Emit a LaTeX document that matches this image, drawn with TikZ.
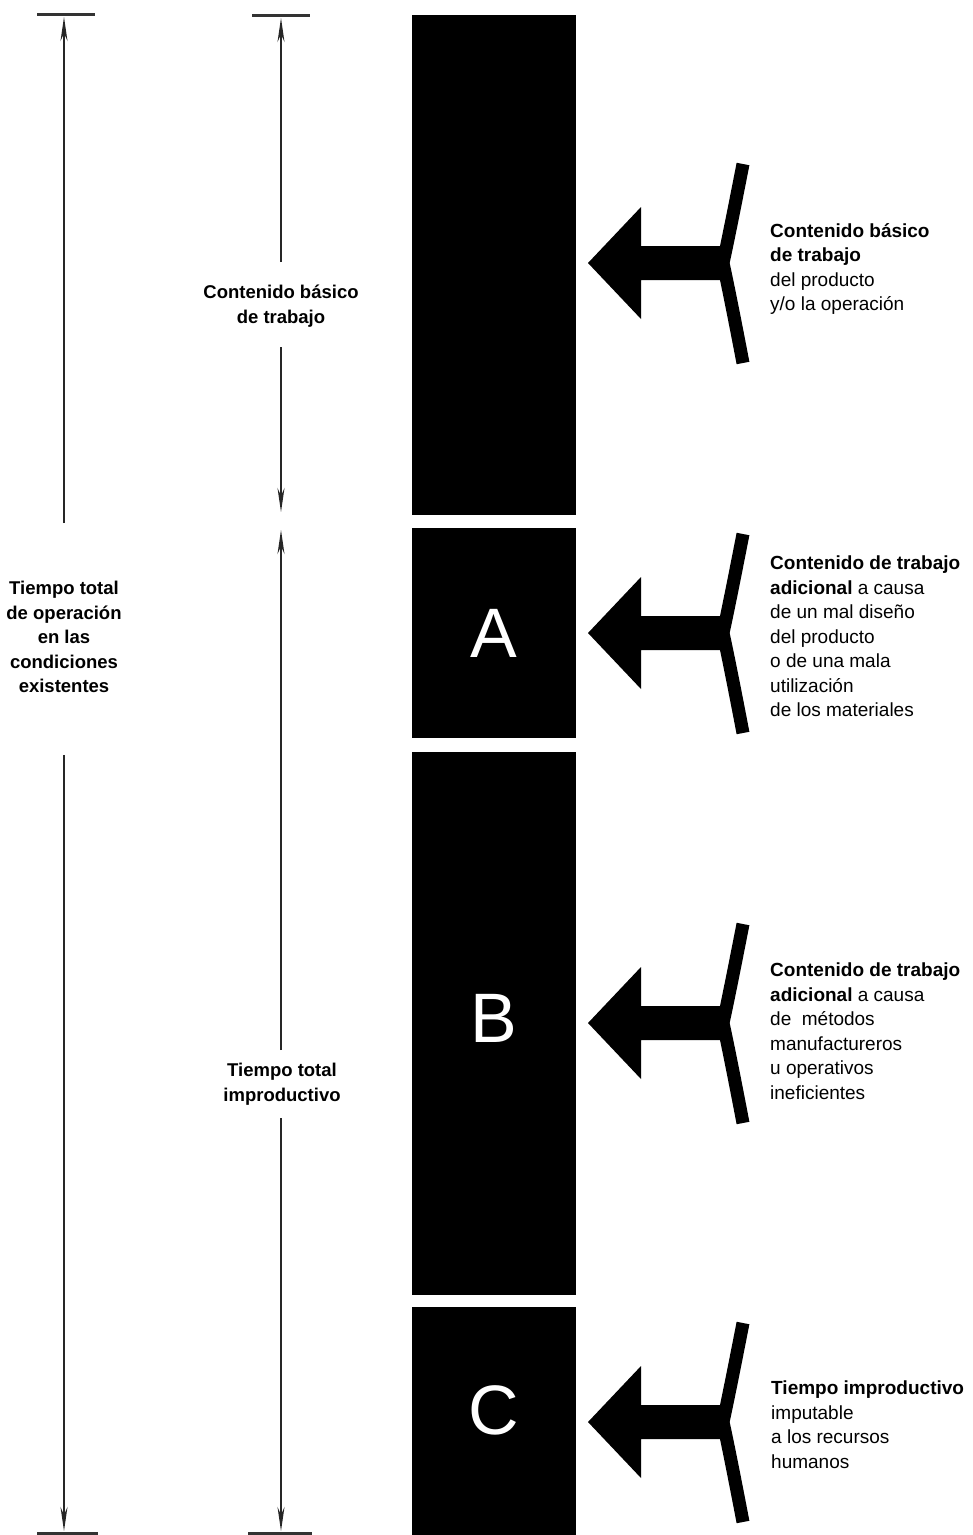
\documentclass[tikz,border=0pt]{standalone}
\usepackage{fontspec}
\setmainfont{Liberation Sans}
\usetikzlibrary{arrows.meta}
\begin{document}
\begin{tikzpicture}[x=1pt,y=-1pt,
  bar/.style={fill=black,inner sep=0pt,minimum width=164pt},
  letter/.style={text=white,font=\fontsize{70}{70}\selectfont,inner sep=0pt},
  dim/.style={line width=1.6pt,draw=black!85,-{Stealth[length=24pt,width=7pt]}},
  tick/.style={line width=3pt,draw=black!80},
  midlab/.style={font=\bfseries\fontsize{18.5}{24.5}\selectfont,align=center,inner sep=0pt,anchor=north},
  sidelab/.style={font=\fontsize{19}{24.5}\selectfont,align=left,inner sep=0pt,anchor=north west},
  feeder/.pic={
    \fill (588,0) -- (641,-56) -- (641,-17) -- (726,-17) -- (726,17) -- (641,17) -- (641,56) -- cycle;
    \draw[line width=13pt] (743,-99) .. controls (735,-58) and (727,-18) .. (723,0) .. controls (727,18) and (735,58) .. (743,100);
  }]
\useasboundingbox (0,0) rectangle (973,1535);

% bars
\node[bar,minimum height=500pt] (bar0) at (494,265) {};
\node[bar,minimum height=210pt] (barA) at (494,633) {};
\node[bar,minimum height=543pt] (barB) at (494,1023.5) {};
\node[bar,minimum height=228pt] (barC) at (494,1421) {};
\node[letter] (lA) at (494,633) {A};
\node[letter] (lB) at (494,1018) {B};
\node[letter] (lC) at (494,1410) {C};

% feeding arrows
\pic (f0) at (0,263) {feeder};
\pic (fA) at (0,633) {feeder};
\pic (fB) at (0,1023) {feeder};
\pic (fC) at (0,1422) {feeder};

% right texts
\node[sidelab] (t0) at (770,223) {\textbf{Contenido básico}\\\textbf{de trabajo}\\del producto\\y/o la operación};
\node[sidelab] (tA) at (770,556) {\textbf{Contenido de trabajo}\\\textbf{adicional} a causa\\de un mal diseño\\del producto\\o de una mala\\utilización\\de los materiales};
\node[sidelab] (tB) at (770,963) {\textbf{Contenido de trabajo}\\\textbf{adicional} a causa\\de\ \ métodos\\manufactureros\\u operativos\\ineficientes};
\node[sidelab] (tC) at (771,1381) {\textbf{Tiempo improductivo}\\imputable\\a los recursos\\humanos};

% left labels
\node[midlab] (total) at (64,581) {Tiempo total\\de operación\\en las\\condiciones\\existentes};
\node[midlab] (basic) at (281,285) {Contenido básico\\de trabajo};
\node[midlab] (improd) at (282,1063) {Tiempo total\\improductivo};

% end coordinates
\coordinate (top1) at (64,17);
\coordinate (bot1) at (64,1531);
\coordinate (top2) at (281,18);
\coordinate (mid2a) at (281,512);
\coordinate (mid2b) at (281,530);
\coordinate (bot2) at (281,1531);

% ticks
\draw[tick] (37,14) -- (95,14);
\draw[tick] (252,15) -- (310,15);
\draw[tick] (37,1533) -- (98,1533);
\draw[tick] (248,1533) -- (312,1533);

% dimension lines
\draw[dim,shorten <=58pt] (total.north) -- (top1);
\draw[dim,shorten <=62pt] (total.south) -- (bot1);
\draw[dim,shorten <=23pt] (basic.north) -- (top2);
\draw[dim,shorten <=20pt] (basic.south) -- (mid2a);
\draw[dim,shorten <=13pt] ([xshift=-1pt]improd.north) -- (mid2b);
\draw[dim,shorten <=13pt] ([xshift=-1pt]improd.south) -- (bot2);
\end{tikzpicture}
\end{document}
